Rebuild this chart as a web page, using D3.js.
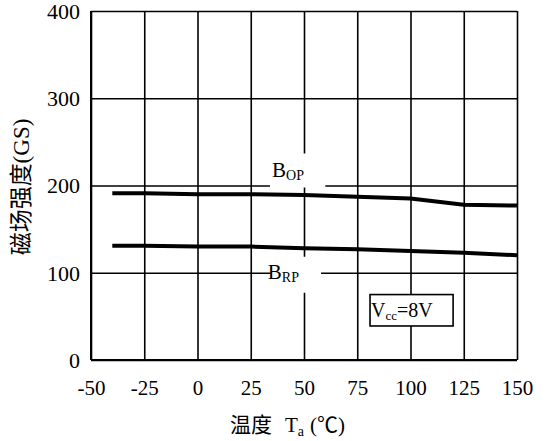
<!DOCTYPE html>
<html>
<head>
<meta charset="utf-8">
<script src="https://cdn.jsdelivr.net/npm/d3@7"></script>
</head>
<body style="margin:0">
<div id="chart"></div>
<script>
// Temperature points (deg C) and the two switching points (GS)
var temps = [-40, -25, 0, 25, 50, 75, 100, 125, 150];
var bopValues = [191, 191, 190, 190, 189, 187, 185, 178, 177];
var brpValues = [131, 131, 130, 130, 128, 127, 125, 123, 120];

var xTicks = [-50, -25, 0, 25, 50, 75, 100, 125, 150];
var yTicks = [0, 100, 200, 300, 400];

var serif = "Liberation Serif";
var cjk = "Noto Sans CJK SC";

var margin = { top: 11, right: 29, bottom: 81, left: 91 },
    width = 546 - margin.left - margin.right,
    height = 441 - margin.top - margin.bottom;

var svg = d3.select("#chart").append("svg")
    .attr("width", 546)
    .attr("height", 441);
svg.append("rect").attr("width", 546).attr("height", 441).attr("fill", "#fff");
var g = svg.append("g")
    .attr("transform", "translate(" + margin.left + "," + margin.top + ")");

var x = d3.scaleLinear().domain([-50, 150]).range([0, width]);
var y = d3.scaleLinear().domain([0, 400]).range([height, 0]);

// X axis with full-height grid lines
var xAxisG = g.append("g")
    .attr("transform", "translate(0," + height + ")")
    .call(d3.axisBottom(x).tickValues(xTicks).tickSize(-height).tickSizeOuter(0)
        .tickFormat(function (d) { return String(d); }));
xAxisG.select(".domain").remove();
xAxisG.selectAll("line").attr("stroke", "#000").attr("stroke-width", 1.6);
xAxisG.selectAll("text")
    .attr("dy", null).attr("y", 35)
    .attr("font-family", serif).attr("font-size", 21)
    .attr("fill", "#000");

// Y axis with full-width grid lines
var yAxisG = g.append("g")
    .call(d3.axisLeft(y).tickValues(yTicks).tickSize(-width).tickSizeOuter(0));
yAxisG.select(".domain").remove();
yAxisG.selectAll("line").attr("stroke", "#000").attr("stroke-width", 1.6);
yAxisG.selectAll("text")
    .attr("x", -11).attr("dy", "0.34em")
    .attr("font-family", serif).attr("font-size", 22)
    .attr("fill", "#000");

// Plot frame (left and bottom a bit heavier)
g.append("line").attr("x1", 0).attr("x2", 0).attr("y1", 0).attr("y2", height)
    .attr("stroke", "#000").attr("stroke-width", 2);
g.append("line").attr("x1", 0).attr("x2", width).attr("y1", height).attr("y2", height)
    .attr("stroke", "#000").attr("stroke-width", 2);

// White patches behind the curve labels (they break the grid)
g.append("rect")
    .attr("x", x(34)).attr("y", y(200) - 32)
    .attr("width", x(60) - x(34)).attr("height", 34)
    .attr("fill", "#fff");
g.append("rect")
    .attr("x", x(33) + 4).attr("y", y(100) - 16)
    .attr("width", x(58) - x(33) - 4).attr("height", 36)
    .attr("fill", "#fff");

// Curve labels
var bop = g.append("text")
    .attr("x", x(35)).attr("y", y(200) - 9)
    .attr("font-family", serif).attr("font-size", 21);
bop.append("tspan").text("B");
bop.append("tspan").attr("dy", 3).attr("font-size", 14).text("OP");

var brp = g.append("text")
    .attr("x", x(33)).attr("y", y(100) + 6)
    .attr("font-family", serif).attr("font-size", 21);
brp.append("tspan").text("B");
brp.append("tspan").attr("dy", 3).attr("font-size", 14).text("RP");

// Curves
var line = d3.line()
    .x(function (d) { return x(d[0]); })
    .y(function (d) { return y(d[1]); });

g.append("path")
    .datum(d3.zip(temps, bopValues))
    .attr("fill", "none").attr("stroke", "#000").attr("stroke-width", 4)
    .attr("d", line);
g.append("path")
    .datum(d3.zip(temps, brpValues))
    .attr("fill", "none").attr("stroke", "#000").attr("stroke-width", 4)
    .attr("d", line);

// Vcc condition box
g.append("rect")
    .attr("x", x(81)).attr("y", y(75))
    .attr("width", x(120) - x(81)).attr("height", y(39) - y(75))
    .attr("fill", "#fff").attr("stroke", "#000").attr("stroke-width", 1.6);
var vcc = g.append("text")
    .attr("x", x(81) + 1).attr("y", y(39) - 9)
    .attr("font-family", serif).attr("font-size", 20);
vcc.append("tspan").text("V");
vcc.append("tspan").attr("dy", 3).attr("font-size", 13).text("cc");
vcc.append("tspan").attr("dy", -3).text("=8V");

// Axis titles
var xt = svg.append("text")
    .attr("x", 230).attr("y", 432)
    .attr("font-family", serif).attr("font-size", 21);
xt.append("tspan").attr("font-family", cjk).text("温度");
xt.append("tspan").attr("dx", 13).text("T");
xt.append("tspan").attr("dy", 4).attr("font-size", 14).text("a");
xt.append("tspan").attr("dy", -4).attr("dx", 6).text("(");
xt.append("tspan").attr("font-family", cjk).text("℃");
xt.append("tspan").text(")");

var yt = svg.append("text")
    .attr("transform", "translate(29,187) rotate(-90)")
    .attr("text-anchor", "middle")
    .attr("font-family", serif).attr("font-size", 23);
yt.append("tspan").attr("font-family", cjk).text("磁场强度");
yt.append("tspan").text("(GS)");
</script>
</body>
</html>
